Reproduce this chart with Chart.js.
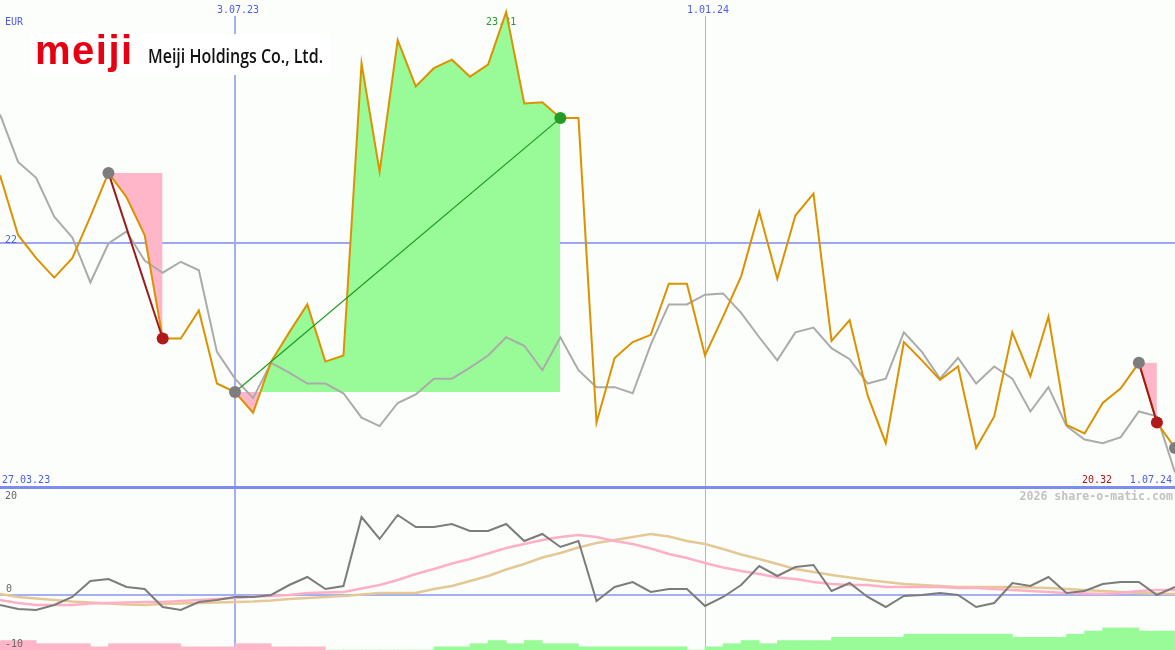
<!DOCTYPE html>
<html>
<head>
<meta charset="utf-8">
<script src="https://cdn.jsdelivr.net/npm/chart.js@4.4.1/dist/chart.umd.min.js"></script>
<style>
  html, body { margin: 0; padding: 0; background: #fcfefb; }
  #wrap { position: relative; width: 1175px; height: 650px; }
</style>
</head>
<body>
<div id="wrap"><canvas id="chart" width="1175" height="650"></canvas></div>
<script>
// Meiji Holdings, Wochenschlusskurse 3.04.23 .. 1.07.24 (66 Wochen), EUR
const price = [22.56, 22.07, 21.88, 21.72, 21.88, 22.22, 22.58, 22.38, 22.07, 21.22,
  21.22, 21.45, 20.85, 20.78, 20.61, 21.03, 21.27, 21.50, 21.03, 21.08,
  23.48, 22.59, 23.67, 23.29, 23.44, 23.51, 23.37, 23.47, 23.90, 23.15,
  23.16, 23.03, 23.03, 20.53, 21.06, 21.19, 21.25, 21.67, 21.67, 21.08,
  21.40, 21.73, 22.26, 21.71, 22.23, 22.41, 21.20, 21.37, 20.75, 20.36,
  21.19, 21.04, 20.88, 20.99, 20.32, 20.58, 21.27, 20.91, 21.40, 20.51,
  20.44, 20.69, 20.81, 21.02, 20.53, 20.32];

// Vergleichsindex (grau), auf Kursniveau skaliert
const compare = [23.06, 22.67, 22.54, 22.22, 22.05, 21.68, 22.00, 22.10, 21.86, 21.76,
  21.85, 21.78, 21.11, 20.89, 20.73, 21.02, 20.94, 20.85, 20.85, 20.77,
  20.57, 20.50, 20.69, 20.76, 20.89, 20.89, 20.98, 21.08, 21.23, 21.16,
  20.96, 21.23, 20.96, 20.82, 20.82, 20.77, 21.17, 21.50, 21.50, 21.58,
  21.59, 21.43, 21.23, 21.04, 21.27, 21.31, 21.14, 21.05, 20.85, 20.89,
  21.27, 21.11, 20.89, 21.06, 20.85, 20.99, 20.89, 20.62, 20.82, 20.50,
  20.39, 20.36, 20.41, 20.62, 20.58, 20.12];

// unteres Panel: Momentum (dunkelgrau) und zwei Glaettungen
const momentum = [-2.0, -2.8, -3.0, -2.0, -0.4, 2.8, 3.2, 1.6, 1.2, -2.4,
  -3.0, -1.4, -1.0, -0.4, -0.4, 0.0, 2.0, 3.6, 1.2, 1.8,
  15.6, 11.2, 16.0, 13.6, 13.6, 14.2, 12.8, 12.8, 14.2, 10.8,
  12.2, 9.6, 10.8, -1.2, 1.6, 2.6, 0.6, 1.2, 1.2, -2.2,
  -0.4, 2.0, 5.8, 3.8, 5.6, 6.0, 0.8, 2.4, -0.4, -2.4,
  -0.2, 0.0, 0.4, 0.0, -2.4, -1.6, 2.4, 1.8, 3.6, 0.4,
  0.8, 2.2, 2.6, 2.6, 0.0, 1.6];

const avgFast = [-1.0, -1.6, -2.0, -2.0, -2.0, -1.7, -1.6, -1.5, -1.4, -1.4,
  -1.2, -1.0, -0.8, -0.6, -0.3, -0.2, 0.0, 0.4, 0.5, 0.6,
  1.3, 2.0, 3.0, 4.2, 5.2, 6.3, 7.2, 8.3, 9.4, 10.2,
  11.0, 11.6, 12.0, 11.6, 10.8, 10.2, 9.3, 8.2, 7.4, 6.4,
  5.5, 4.8, 4.2, 3.5, 3.2, 2.6, 2.2, 2.0, 2.0, 1.6,
  1.6, 1.6, 1.6, 1.4, 1.4, 1.2, 1.0, 0.8, 0.6, 0.4,
  0.3, 0.2, 0.4, 0.8, 1.0, 1.0];

const avgSlow = [0.2, -0.4, -0.7, -1.0, -1.3, -1.5, -1.7, -1.9, -2.0, -1.8,
  -1.7, -1.6, -1.5, -1.4, -1.3, -1.1, -0.8, -0.6, -0.4, -0.2,
  0.1, 0.4, 0.4, 0.4, 1.2, 1.8, 2.8, 3.8, 5.1, 6.2,
  7.5, 8.4, 9.5, 10.4, 11.0, 11.6, 12.2, 11.7, 10.8, 10.2,
  9.2, 8.1, 7.2, 6.2, 5.2, 4.6, 4.0, 3.5, 3.0, 2.6,
  2.2, 2.0, 1.8, 1.6, 1.6, 1.6, 1.6, 1.5, 1.4, 1.2,
  1.0, 0.8, 0.6, 0.4, 0.3, 0.2];

// Signalbalken am unteren Rand (negativ = rosa, positiv = gruen)
const signal = [-3, -3, -2, -2, -2, -1, -2, -2, -2, -2,
  -1, -1, -1, -2, -2, -1, -1, -1, 0, 0,
  0, 0, 0, 0, 1, 1, 2, 3, 2, 3,
  2, 2, 1, 1, 1, 1, 1, 1, 0, 1,
  2, 3, 2, 3, 3, 3, 4, 4, 4, 4,
  5, 5, 5, 5, 5, 5, 4, 4, 4, 5,
  6, 7, 7, 6, 6, 6];

// Trades (Wochenindex)
const tradeEntry = [6, 13, 63];
const tradeExit = [9, 31, 64];
const openEntry = 65;

// Datumsmarken
const tickWeeks = [13, 39];
const tickLabels = ['3.07.23', '1.01.24'];
const startLabel = '27.03.23';
const endLabel = '1.07.24';
const gridPrice = 22;
const maxLabel = '23.31';
const maxWeek = 28;
const lastLabel = '20.32';
const lowerTicks = [20, 0, -10];

const GREEN = '#98fb98';
const PINK = '#ffb6c8';
const MONO = '"DejaVu Sans Mono", monospace';

const pts = arr => arr.map((v, i) => ({ x: i, y: v }));

const datasets = [];

// Signalbalken
datasets.push({
  type: 'bar',
  data: signal.map((v, i) => ({ x: i + 0.5, y: Math.abs(v) })),
  backgroundColor: signal.map(v => v < 0 ? PINK : GREEN),
  borderWidth: 0,
  barPercentage: 1,
  categoryPercentage: 1,
  yAxisID: 'y3',
  order: 30
});

// Gewinn/Verlust-Flaechen je Trade
tradeEntry.forEach((e, k) => {
  const x = tradeExit[k];
  const span = [];
  for (let i = e; i <= x; i++) span.push(i);
  const levelIdx = datasets.length;
  datasets.push({
    type: 'line',
    data: span.map(i => ({ x: i, y: price[e] })),
    borderColor: 'transparent', borderWidth: 0, pointRadius: 0, fill: false,
    yAxisID: 'y', order: 25
  });
  datasets.push({
    type: 'line',
    data: span.map(i => ({ x: i, y: price[i] })),
    borderColor: 'transparent', borderWidth: 0, pointRadius: 0,
    fill: { target: levelIdx, above: GREEN, below: PINK },
    yAxisID: 'y', order: 24
  });
});

// unteres Panel
datasets.push({ type: 'line', data: pts(avgSlow), borderColor: '#e4c997', borderWidth: 2.5, pointRadius: 0, yAxisID: 'y2', order: 20 });
datasets.push({ type: 'line', data: pts(avgFast), borderColor: '#ffb0c6', borderWidth: 2.5, pointRadius: 0, yAxisID: 'y2', order: 19 });
datasets.push({ type: 'line', data: pts(momentum), borderColor: '#7c7c7c', borderWidth: 2, pointRadius: 0, yAxisID: 'y2', order: 18 });

// Vergleich und Kurs
datasets.push({ type: 'line', data: pts(compare), borderColor: '#ababab', borderWidth: 2, pointRadius: 0, yAxisID: 'y', order: 12 });
datasets.push({ type: 'line', data: pts(price), borderColor: '#dc9200', borderWidth: 2, pointRadius: 0, yAxisID: 'y', order: 10 });

// Verbindungslinien der Trades
tradeEntry.forEach((e, k) => {
  const x = tradeExit[k];
  const win = price[x] > price[e];
  datasets.push({
    type: 'line',
    data: [{ x: e, y: price[e] }, { x: x, y: price[x] }],
    borderColor: win ? '#1e9a1e' : '#9e1a1a',
    borderWidth: win ? 1.2 : 2,
    pointRadius: 0, yAxisID: 'y', order: 8
  });
});

// Kauf-/Verkaufspunkte
const markerWeeks = [];
const markerColors = [];
tradeEntry.forEach((e, k) => {
  const x = tradeExit[k];
  markerWeeks.push(e); markerColors.push('#7d7d7d');
  markerWeeks.push(x); markerColors.push(price[x] > price[e] ? '#259b25' : '#b01a1a');
});
markerWeeks.push(openEntry); markerColors.push('#7d7d7d');
datasets.push({
  type: 'line',
  data: markerWeeks.map(i => ({ x: i, y: price[i] })),
  showLine: false,
  pointRadius: 6,
  pointBorderWidth: 0,
  pointBackgroundColor: markerColors,
  yAxisID: 'y', order: 5
});

const panelPlugin = {
  id: 'panels',
  beforeDraw(chart) {
    const { ctx, width, height } = chart;
    ctx.save();
    ctx.fillStyle = '#fcfefb';
    ctx.fillRect(0, 0, width, height);
    ctx.restore();
  },
  beforeDatasetsDraw(chart) {
    const { ctx, width, height } = chart;
    const { x, y, y2 } = chart.scales;
    ctx.save();
    const hline = (py, color, w) => {
      ctx.strokeStyle = color; ctx.lineWidth = w;
      ctx.beginPath(); ctx.moveTo(0, py); ctx.lineTo(width, py); ctx.stroke();
    };
    const vline = (px, color, w) => {
      ctx.strokeStyle = color; ctx.lineWidth = w;
      ctx.beginPath(); ctx.moveTo(px, 16); ctx.lineTo(px, height); ctx.stroke();
    };
    hline(Math.round(y.getPixelForValue(gridPrice)), '#9aa8f1', 2);
    hline(Math.round(y2.getPixelForValue(0)), '#a3b0f2', 2);
    vline(Math.round(x.getPixelForValue(tickWeeks[0])), '#a2aff2', 2);
    vline(Math.round(x.getPixelForValue(tickWeeks[1])) + 0.5, '#aab3e2', 1);
    hline(Math.round(y.getPixelForValue(20)) + 0.5, '#7c8cef', 3);

    // Logo
    ctx.fillStyle = '#ffffff';
    ctx.fillRect(30, 34, 300, 41);
    ctx.fillStyle = '#e60012';
    ctx.font = 'bold 40px "Liberation Sans", Arial, sans-serif';
    ctx.letterSpacing = '1.5px';
    ctx.textBaseline = 'alphabetic';
    ctx.textAlign = 'left';
    ctx.fillText('meiji', 35, 64);
    ctx.letterSpacing = '0px';
    ctx.fillStyle = '#111111';
    ctx.font = '600 20px "Open Sans", sans-serif';
    ctx.fillText('Meiji Holdings Co., Ltd.', 148, 63, 175);

    // Beschriftungen
    ctx.font = '10px ' + MONO;
    ctx.fillStyle = '#4c5ce9';
    ctx.fillText('EUR', 5, 25);
    ctx.textAlign = 'center';
    tickWeeks.forEach((w, k) => {
      ctx.fillText(tickLabels[k], x.getPixelForValue(w) + 3, 13);
    });
    ctx.textAlign = 'left';
    ctx.fillText(String(gridPrice), 5, y.getPixelForValue(gridPrice) - 1);
    ctx.fillText(startLabel, 2, 483);
    ctx.textAlign = 'right';
    ctx.fillText(endLabel, 1172, 483);
    ctx.fillStyle = '#a8161c';
    ctx.fillText(lastLabel, 1112, 483);
    ctx.textAlign = 'center';
    ctx.fillStyle = '#22a022';
    ctx.fillText(maxLabel, x.getPixelForValue(maxWeek) - 5, 25);

    ctx.textAlign = 'right';
    ctx.fillStyle = '#c2c2c2';
    ctx.font = 'bold 11.6px ' + MONO;
    ctx.fillText('2026 share-o-matic.com', 1173, 500);
    ctx.restore();
  },
  afterDatasetsDraw(chart) {
    // Achsenwerte des unteren Panels liegen ueber den Balken
    const { ctx } = chart;
    const { y2 } = chart.scales;
    const shift = [4, -3, 2];
    ctx.save();
    ctx.font = '10px ' + MONO;
    ctx.fillStyle = '#666666';
    ctx.textAlign = 'left';
    ctx.textBaseline = 'alphabetic';
    lowerTicks.forEach((t, k) => {
      ctx.fillText(String(t), t === 0 ? 6 : 5, y2.getPixelForValue(t) + shift[k]);
    });
    ctx.restore();
  }
};

new Chart(document.getElementById('chart'), {
  type: 'line',
  data: { datasets },
  options: {
    responsive: false,
    devicePixelRatio: 1,
    animation: false,
    events: [],
    layout: { padding: 0, autoPadding: false },
    plugins: { legend: { display: false }, tooltip: { enabled: false } },
    scales: {
      x: { type: 'linear', min: 0, max: 65, display: false, offset: false },
      y: { type: 'linear', min: 24 - 4 * 650 / 487, max: 24, display: false },
      y2: { type: 'linear', min: -11, max: 119, display: false },
      y3: { type: 'linear', min: 0, max: 206, display: false }
    }
  },
  plugins: [panelPlugin]
});
</script>
</body>
</html>
